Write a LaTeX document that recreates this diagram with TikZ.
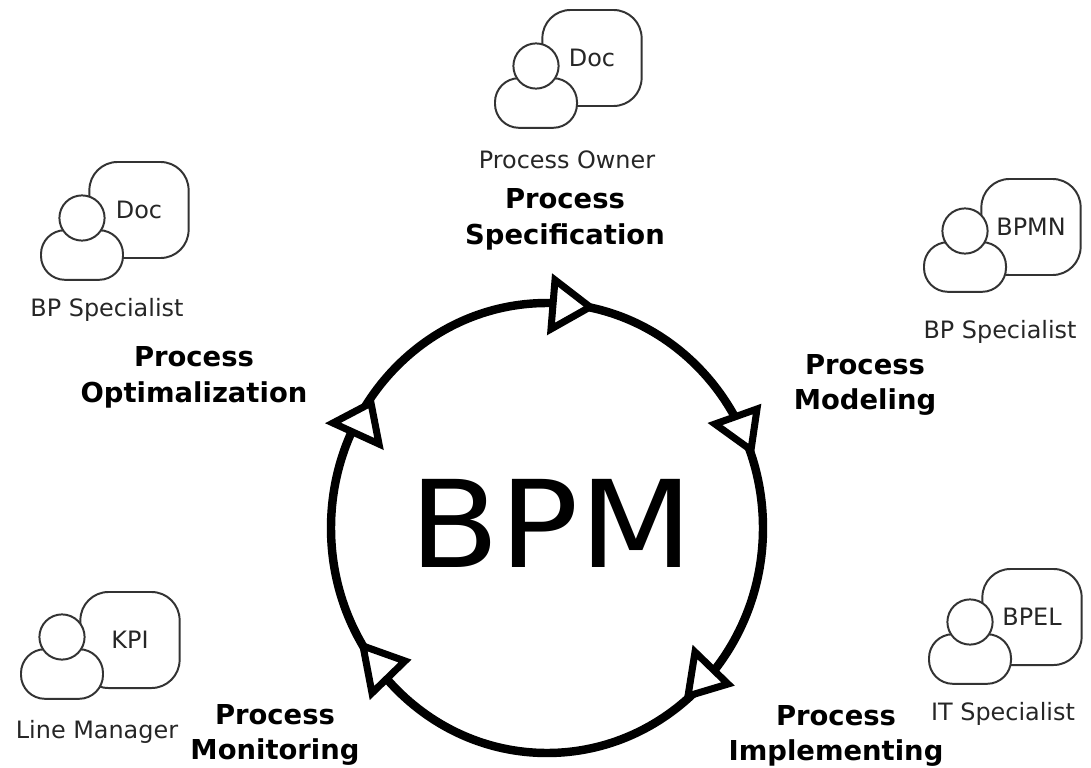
\documentclass[tikz,border=0pt]{standalone}
\usepackage{fontspec}
\setmainfont{DejaVu Sans}
\usepackage{tikz}

\begin{document}
\begin{tikzpicture}[x=0.025cm,y=-0.025cm]
    \tikzstyle{doc}=[rectangle, draw=black!80, fill=white, line width=1.4pt, rounded corners=20pt, minimum width=2.48cm, minimum height=2.4cm, inner sep=0pt, text=black!85, font=\fontsize{17}{20}\selectfont]
    \tikzstyle{body}=[rectangle, draw=black!80, fill=white, line width=1.4pt, rounded corners=17pt, minimum width=2.05cm, minimum height=1.24cm, inner sep=0pt]
    \tikzstyle{head}=[circle, draw=black!80, fill=white, line width=1.4pt, minimum size=1.13cm, inner sep=0pt]
    \tikzstyle{role}=[text=black!85, font=\fontsize{17}{20}\selectfont, inner sep=0pt]
    \tikzstyle{phase}=[align=center, inner sep=0pt, font=\fontsize{19.5}{25.5}\selectfont\bfseries]
    \tikzstyle{tri}=[draw=black, fill=white, line width=5pt, miter limit=10]

    \useasboundingbox (0,0) rectangle (1091,768);

    \draw[line width=6pt] (547,528) ellipse [x radius=216*0.025cm, y radius=225*0.025cm];
    \node[font=\fontsize{86}{100}\selectfont, inner sep=0pt] (bpm) at (551,523) {\scalebox{1.09}[1]{BPM}};

    \draw[tri] (555,280) -- (551,329) -- (590,307) -- cycle;
    \draw[tri] (715,424) -- (757,409) -- (751,450) -- cycle;
    \draw[tri] (695,652) -- (688,696) -- (728,684) -- cycle;
    \draw[tri] (363,646) -- (405,661) -- (372,693) -- cycle;
    \draw[tri] (333,423) -- (371,403) -- (379,444) -- cycle;

    \node[doc] (docO) at (592,58) {Doc};
    \node[body] (bodyO) at (536,103) {};
    \node[head] (headO) at (536,66) {};
    \node[role] (roleO) at (567,160) {Process Owner};

    \node[doc] (docS) at (139,210) {Doc};
    \node[body] (bodyS) at (82,255) {};
    \node[head] (headS) at (82,218) {};
    \node[role] (roleS) at (107,310) {BP Specialist};

    \node[doc] (docM) at (1031,227) {BPMN};
    \node[body] (bodyM) at (965,267) {};
    \node[head] (headM) at (965,231) {};
    \node[role] (roleM) at (1000,332) {BP Specialist};

    \node[doc] (docI) at (1032,617) {BPEL};
    \node[body] (bodyI) at (970,659) {};
    \node[head] (headI) at (970,622) {};
    \node[role] (roleI) at (1003,714) {IT Specialist};

    \node[doc] (docK) at (130,640) {KPI};
    \node[body] (bodyK) at (62,674) {};
    \node[head] (headK) at (62,637) {};
    \node[role] (roleK) at (97,732) {Line Manager};

    \node[phase] (spec) at (565,219) {Process\\Specification};
    \node[phase] (model) at (865,385) {Process\\Modeling};
    \node[phase] (impl) at (836,736) {Process\\Implementing};
    \node[phase] (monit) at (275,735) {Process\\Monitoring};
    \node[phase] (optim) at (194,377) {Process\\Optimalization};
\end{tikzpicture}
\end{document}
